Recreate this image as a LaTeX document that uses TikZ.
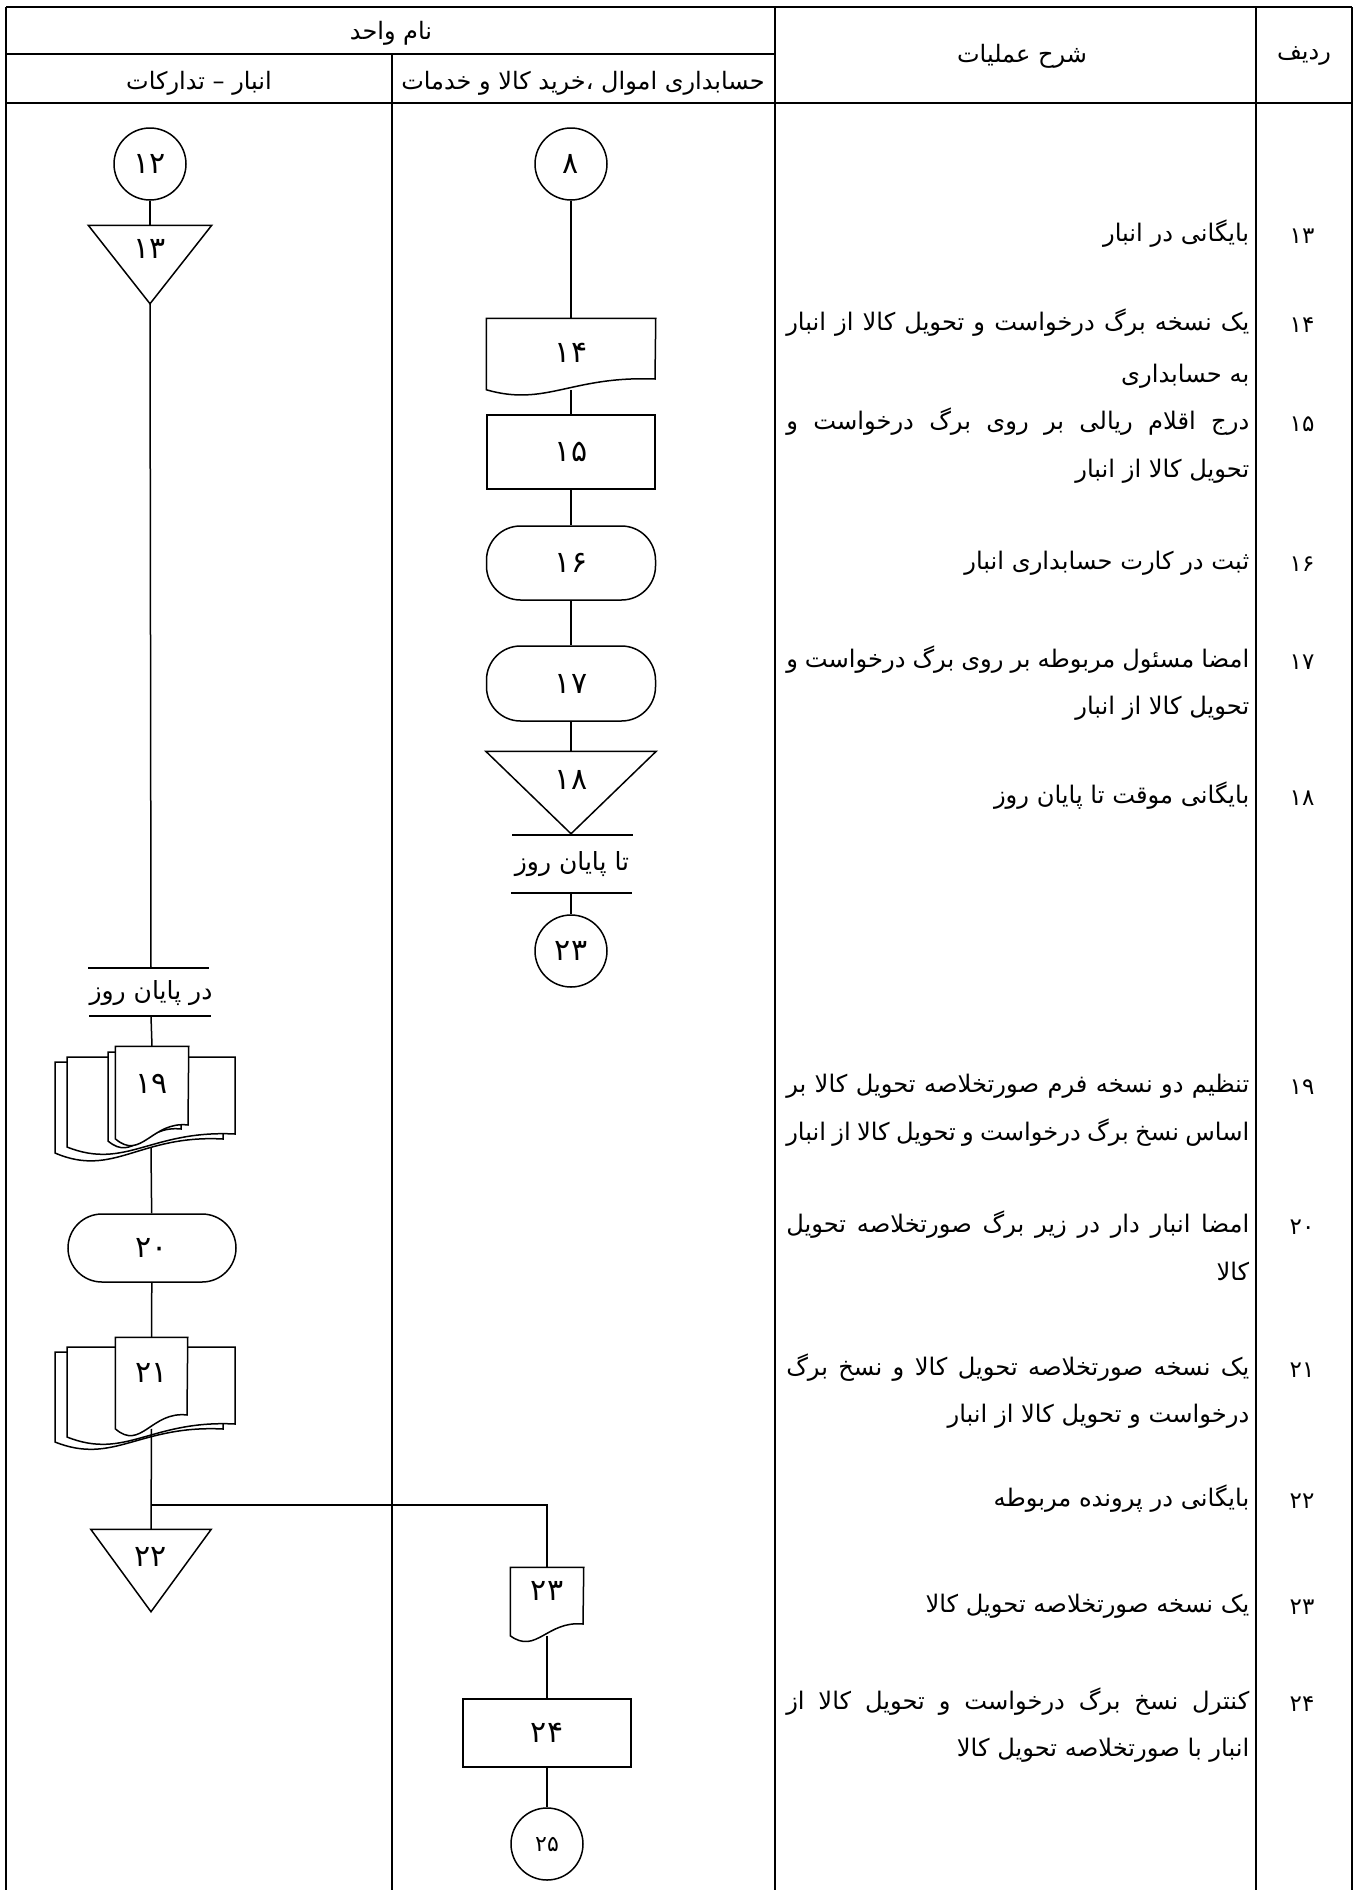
\documentclass[tikz,border=0pt]{standalone}
\usepackage{fontspec}
\newfontfamily\fa[Script=Arabic]{DejaVu Sans}
\TeXXeTstate=1
\newcommand\RL[1]{\beginR #1\endR}
\newcommand\JL[1]{\hbox to 463pt{\beginR #1\endR}}
\begin{document}
\begin{tikzpicture}[x=1pt,y=-1pt,line width=1.5pt]
\tikzset{
  frame/.style={line width=1.6pt},
  shp/.style={draw, line width=1.5pt, fill=white, inner sep=0pt},
  num/.style={inner sep=0pt, font=\fa\fontsize{30}{33}\selectfont},
  smallnum/.style={font=\fa\fontsize{22}{25}\selectfont},
  desc/.style={anchor=east, inner sep=0pt, text height=18pt, text depth=7pt, font=\fa\fontsize{24.2}{28}\selectfont},
  rown/.style={inner sep=0pt, font=\fa\fontsize{23}{26}\selectfont},
  hdr/.style={inner sep=0pt, font=\fa\fontsize{24}{27}\selectfont},
  lbltxt/.style={inner sep=0pt, font=\fa\fontsize{25}{28}\selectfont},
  circ/.style={shp, circle, minimum size=72pt, num},
  proc/.style={shp, rectangle, num},
  term/.style={shp, rectangle, rounded corners=34pt, num},
  hold/.style={inner sep=0pt},
  doc/.style={draw, line width=1.5pt, fill=white},
}
\useasboundingbox (0,0) rectangle (1356,1890);
% ---------- table frame ----------
\draw[frame] (6,7) -- (1352,7);
\draw[frame] (6,54) -- (775,54);
\draw[frame] (6,103) -- (1352,103);
\draw[frame] (6,7) -- (6,1890);
\draw[frame] (392,54) -- (392,1890);
\draw[frame] (775,7) -- (775,1890);
\draw[frame] (1256,7) -- (1256,1890);
\draw[frame] (1352,7) -- (1352,1890);
% ---------- header ----------
\node[hdr] (h1) at (391,33) {\RL{نام واحد}};
\node[hdr] (h2) at (199,83) {\RL{انبار – تدارکات}};
\node[hdr] (h3) at (583,83) {\RL{حسابداری اموال ،خرید کالا و خدمات}};
\node[hdr] (h4) at (1022,56) {\RL{شرح عملیات}};
\node[hdr] (h5) at (1304,56) {\RL{ردیف}};
% ---------- row numbers ----------
\foreach \n/\y in {۱۳/236,۱۴/325,۱۵/424,۱۶/564,۱۷/662,۱۸/798,۱۹/1087,۲۰/1227,۲۱/1370,۲۲/1501,۲۳/1607,۲۴/1704}
  \node[rown] (rn\y) at (1302,\y) {\n};
% ---------- descriptions ----------
\node[desc] (e13)  at (1250,236)  {\RL{بایگانی در انبار}};
\node[desc] (e14a) at (1250,325)  {\JL{یک نسخه برگ درخواست و تحویل کالا از انبار}};
\node[desc] (e14b) at (1250,377)  {\RL{به حسابداری}};
\node[desc] (e15a) at (1250,424)  {\JL{درج اقلام ریالی بر روی برگ درخواست و}};
\node[desc] (e15b) at (1250,472)  {\RL{تحویل کالا از انبار}};
\node[desc] (e16)  at (1250,564)  {\RL{ثبت در کارت حسابداری انبار}};
\node[desc] (e17a) at (1250,662)  {\JL{امضا مسئول مربوطه بر روی برگ درخواست و}};
\node[desc] (e17b) at (1250,709)  {\RL{تحویل کالا از انبار}};
\node[desc] (e18)  at (1250,798)  {\RL{بایگانی موقت تا پایان روز}};
\node[desc] (e19a) at (1250,1087) {\JL{تنظیم دو نسخه فرم صورتخلاصه تحویل کالا بر}};
\node[desc] (e19b) at (1250,1135) {\JL{اساس نسخ برگ درخواست و تحویل کالا از انبار}};
\node[desc] (e20a) at (1250,1227) {\JL{امضا انبار دار در زیر برگ صورتخلاصه تحویل}};
\node[desc] (e20b) at (1250,1275) {\RL{کالا}};
\node[desc] (e21a) at (1250,1370) {\JL{یک نسخه صورتخلاصه تحویل کالا و نسخ برگ}};
\node[desc] (e21b) at (1250,1417) {\RL{درخواست و تحویل کالا از انبار}};
\node[desc] (e22)  at (1250,1501) {\RL{بایگانی در پرونده مربوطه}};
\node[desc] (e23)  at (1250,1607) {\RL{یک نسخه صورتخلاصه تحویل کالا}};
\node[desc] (e24a) at (1250,1704) {\JL{کنترل نسخ برگ درخواست و تحویل کالا از}};
\node[desc] (e24b) at (1250,1751) {\RL{انبار با صورتخلاصه تحویل کالا}};
% ---------- middle lane (upper) ----------
\node[circ] (c8) at (571,164) {۸};
\node[hold, minimum width=168pt, minimum height=70pt] (d14) at (571,354) {};
\draw[doc] (d14.north west) -- (d14.north east) -- (655,379)
  .. controls (571,375.7) and (545.8,407) .. (d14.south west) -- cycle;
\node[num] (d14n) at ([yshift=1pt]d14.center) {۱۴};
\node[proc, minimum width=168pt, minimum height=74pt] (r15) at (571,452) {۱۵};
\node[term, minimum width=169pt, minimum height=74pt] (te16) at (571,563) {۱۶};
\node[term, minimum width=169pt, minimum height=75pt] (te17) at (571,683.5) {۱۷};
\node[hold, minimum width=169pt, minimum height=81pt] (t18) at (571,792.5) {};
\draw[doc] (t18.north west) -- (t18.north east) -- (t18.south) -- cycle;
\node[num] (t18n) at ([yshift=13pt]t18.center) {۱۸};
\draw (512,835) -- (633,835);
\node[lbltxt] (lb18) at (572,864) {\RL{تا پایان روز}};
\draw (511,893) -- (632,893);
\coordinate (lb18b) at (571,893);
\node[circ] (c23) at (571,951) {۲۳};
% ---------- left lane ----------
\node[circ] (c12) at (150,164) {۱۲};
\node[hold, minimum width=122pt, minimum height=77pt] (t13) at (150,264.5) {};
\draw[doc] (t13.north west) -- (t13.north east) -- (t13.south) -- cycle;
\node[num] (t13n) at ([yshift=16pt]t13.center) {۱۳};
\draw (88,968) -- (209,968);
\coordinate (lb19a) at (151,968);
\node[lbltxt] (lb19) at (151,993) {\RL{در پایان روز}};
\draw (89,1016) -- (211,1016);
\coordinate (lb19b) at (151,1016);
% document group 19
\draw[doc] (55,1062) -- (223,1062) -- (223,1139)
  .. controls (139,1134.4) and (113.8,1178.2) .. (55,1153) -- cycle;
\draw[doc] (67,1057) -- (235,1057) -- (235,1134)
  .. controls (151,1129.7) and (125.8,1170.4) .. (67,1147) -- cycle;
\draw[doc] (108,1052) -- (181,1052) -- (181,1129)
  .. controls (144.5,1125) and (133.5,1162.6) .. (108,1141) -- cycle;
\node[hold, minimum width=72pt, minimum height=91pt] (d19) at (152,1092.5) {};
\draw[doc] (d19.north west) -- (d19.north east) -- (188,1125)
  .. controls (152,1120.7) and (141.2,1161.4) .. (d19.south west) -- cycle;
\node[num] (d19n) at ([yshift=9pt]d19.center) {۱۹};
\coordinate (d19b) at (151,1148);
\node[term, minimum width=168pt, minimum height=68pt] (te20) at (152,1248) {۲۰};
% document group 21
\draw[doc] (55,1352) -- (223,1352) -- (223,1429)
  .. controls (139,1424.7) and (113.8,1465.4) .. (55,1442) -- cycle;
\draw[doc] (67,1347) -- (235,1347) -- (235,1424)
  .. controls (151,1419.7) and (125.8,1460.4) .. (67,1437) -- cycle;
\node[hold, minimum width=71pt, minimum height=90pt] (d21) at (151.5,1383) {};
\draw[doc] (d21.north west) -- (d21.north east) -- (187,1415)
  .. controls (151.5,1410.7) and (140.9,1451.4) .. (d21.south west) -- cycle;
\node[num] (d21n) at ([yshift=10pt]d21.center) {۲۱};
\node[hold, minimum width=119pt, minimum height=81pt] (t22) at (151,1570.5) {};
\draw[doc] (t22.north west) -- (t22.north east) -- (t22.south) -- cycle;
\node[num] (t22n) at ([yshift=14pt]t22.center) {۲۲};
\coordinate (br) at (151,1505);
% ---------- middle lane (lower) ----------
\node[hold, minimum width=72pt, minimum height=67pt] (d23) at (547,1601.5) {};
\draw[doc] (d23.north west) -- (d23.north east) -- (583,1624)
  .. controls (547,1620.4) and (536.2,1654.8) .. (d23.south west) -- cycle;
\node[num] (d23n) at ([yshift=11pt]d23.center) {۲۳};
\node[proc, minimum width=168pt, minimum height=68pt] (r24) at (547,1733) {۲۴};
\node[circ, smallnum] (c25) at (547,1844) {۲۵};
% ---------- connectors ----------
\draw (c8) -- (d14.north);
\draw (d14.south) -- (r15);
\draw (r15) -- (te16);
\draw (te16) -- (te17);
\draw (te17) -- (t18.north);
\draw (lb18b) -- (c23);
\draw (c12) -- (t13.north);
\draw (t13.south) -- (lb19a);
\draw (lb19b) -- (d19.north);
\draw (d19b) -- (te20);
\draw (te20) -- (d21.north);
\draw (d21.south) -- (t22.north);
\draw (br) -| (d23.north);
\draw (d23.south) -- (r24);
\draw (r24) -- (c25);
\end{tikzpicture}
\end{document}
